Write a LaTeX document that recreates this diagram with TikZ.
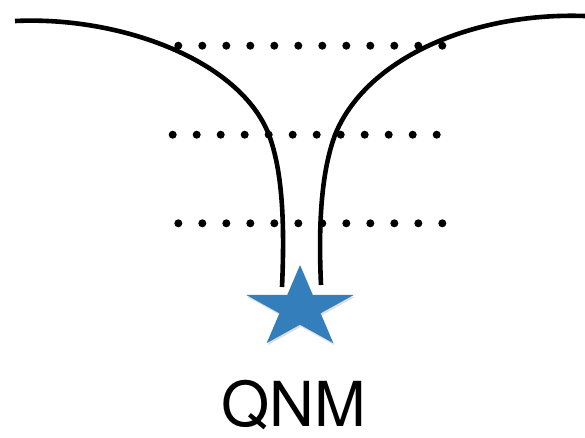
\documentclass[tikz,border=0pt]{standalone}
\usepackage{fontspec}
\setmainfont{TeX Gyre Heros}
\usepackage{tikz}
\usetikzlibrary{shadows, positioning}
\definecolor{qnm_blue}{RGB}{52,127,187}
\tikzset{
    flux line/.style={black, line width=4.6pt},
    row dot/.style={black},
    qnm star/.style={
        fill=qnm_blue,
        drop shadow={opacity=0.25, shadow xshift=1pt, shadow yshift=-2pt}
    },
    qnm label/.style={font=\fontsize{62}{62}\selectfont, inner sep=0pt, anchor=base},
}

\begin{document}
\begin{tikzpicture}[x=1pt, y=-1pt]
    \useasboundingbox (0,0) rectangle (585,437);
    % the two curves
    \draw[flux line] (15,21) .. controls (120,16) and (240,60) .. (269,135)
        .. controls (282,170) and (285,220) .. (282,287);
    \draw[flux line] (585,16) .. controls (470,12) and (365,60) .. (335,135)
        .. controls (322,170) and (318,220) .. (321,285);
    % rows of dots
    \foreach \rowy/\rowx in {45.7/178.3, 134.7/172.7, 223.3/178.3} {
        \foreach \k in {0,...,11} {
            \fill[row dot] ({\rowx+24*\k},\rowy) circle[radius=4];
        }
    }
    % star
    \fill[qnm star, shift={(300,308.2)}, xscale=56.7, yscale=43.2]
        (-90:1) -- (-54:0.382) -- (-18:1) -- (18:0.382) -- (54:1)
        -- (90:0.382) -- (126:1) -- (162:0.382) -- (198:1) -- (234:0.382) -- cycle;
    \node[qnm label] (qnm) at (294,426) {QNM};
\end{tikzpicture}
\end{document}
